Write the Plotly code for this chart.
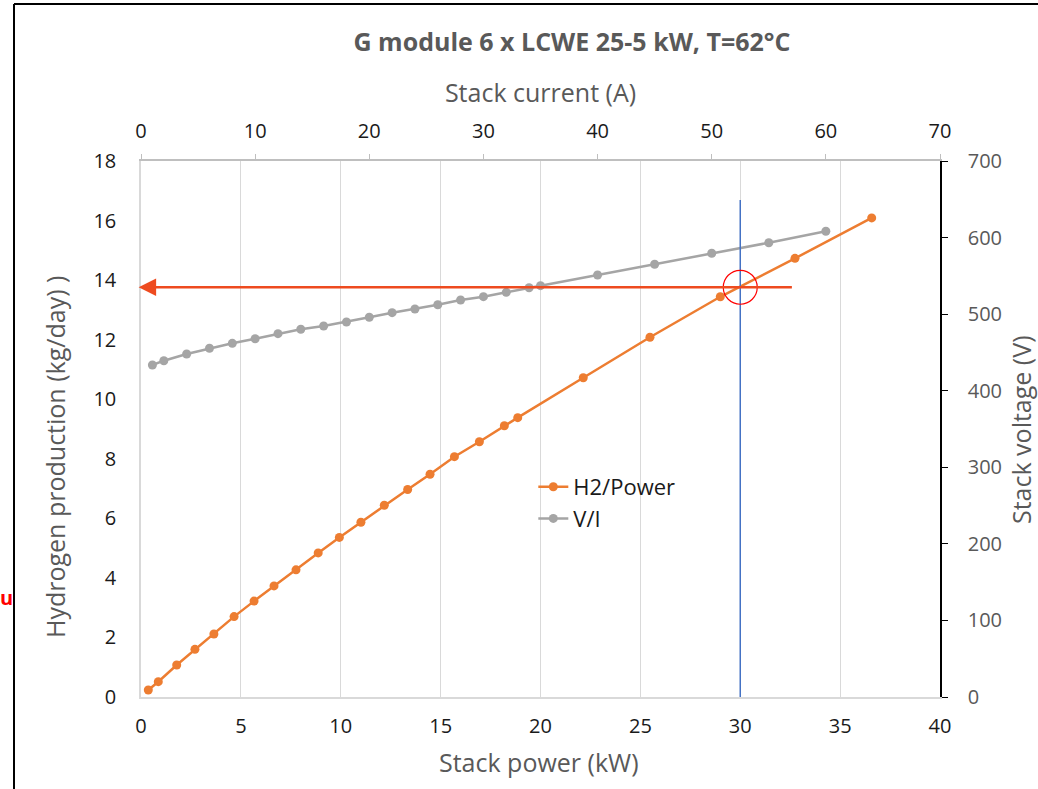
import plotly.graph_objects as go

# ---- data ----
power_kw = [0.365, 0.866, 1.787, 2.70, 3.65, 4.66, 5.66, 6.66, 7.76, 8.87, 9.93, 11.01,
            12.18, 13.35, 14.47, 15.69, 16.94, 18.19, 18.86, 22.14, 25.48, 29.0, 32.74, 36.58]
h2_kg_day = [0.235, 0.514, 1.075, 1.60, 2.115, 2.70, 3.22, 3.73, 4.27, 4.84, 5.36, 5.87,
             6.44, 6.97, 7.48, 8.07, 8.57, 9.11, 9.38, 10.72, 12.08, 13.44, 14.73, 16.09]
current_a = [1, 2, 4, 6, 8, 10, 12, 14, 16, 18, 20, 22, 24, 26, 28, 30, 32, 34, 35,
             40, 45, 50, 55, 60]
voltage_v = [433.6, 439.2, 448.0, 455.4, 461.9, 467.9, 474.5, 480.2, 484.5, 489.8, 495.9,
             501.9, 506.7, 512.3, 518.5, 522.8, 528.5, 534.5, 537.2, 551.1, 565.1, 579.5,
             593.3, 608.2]

op_power = 30.0          # operating point (kW)
op_h2 = 13.76            # operating point H2 (kg/day)
arrow_start = 32.66      # arrow tail (kW)
vline_top = 16.69        # top of blue marker line

title = "G module 6 x LCWE 25-5 kW, T=62°C"
y_left_title = "Hydrogen production (kg/day) )"
y_right_title = "Stack voltage (V)"
x_bottom_title = "Stack power (kW)"
x_top_title = "Stack current (A)"

ORANGE = "#ED7D31"
GRAY = "#A5A5A5"
TXT = "#595959"
DARK = "#1a1a1a"
FONT = "Open Sans"
TICK = 20
TITLE = 25

fig = go.Figure()
fig.add_trace(go.Scatter(x=power_kw, y=h2_kg_day, name="H2/Power", mode="lines+markers",
                         line=dict(color=ORANGE, width=2.5),
                         marker=dict(color=ORANGE, size=9), xaxis="x", yaxis="y"))
fig.add_trace(go.Scatter(x=current_a, y=voltage_v, name="V/I", mode="lines+markers",
                         line=dict(color=GRAY, width=2.5),
                         marker=dict(color=GRAY, size=9), xaxis="x2", yaxis="y2"))

fig.update_layout(
    width=1038, height=789,
    margin=dict(l=141, r=98, t=161, b=92, autoexpand=False),
    paper_bgcolor="white", plot_bgcolor="white",
    font=dict(family=FONT, size=TICK, color=TXT),
    title=dict(text="<b>" + title + "</b>", x=572 / 1038, xanchor="center",
               y=1 - 42 / 789, yanchor="middle", font=dict(size=25, color=TXT)),
    xaxis=dict(range=[0, 40], dtick=5, tick0=0, showgrid=True, gridcolor="#D9D9D9",
               gridwidth=1, showline=True, linecolor="#D9D9D9", linewidth=1.5,
               zeroline=False, ticks="", tickfont=dict(color=DARK, size=TICK),
               ticklabelstandoff=10, automargin=False),
    yaxis=dict(range=[0, 18], dtick=2, showgrid=False, showline=True, linecolor="#D9D9D9",
               linewidth=1.5, zeroline=False, ticks="", tickfont=dict(color=DARK, size=TICK),
               ticklabelstandoff=19, automargin=False),
    xaxis2=dict(range=[0, 70], dtick=10, overlaying="x", side="top", showgrid=False,
                showline=True, linecolor="#BFBFBF", linewidth=1.5, zeroline=False,
                ticks="outside", ticklen=5, tickcolor="#BFBFBF",
                tickfont=dict(color=DARK, size=TICK), ticklabelstandoff=8, automargin=False,
                title=dict(text=x_top_title, font=dict(size=TITLE, color=TXT), standoff=8)),
    yaxis2=dict(range=[0, 700], dtick=100, overlaying="y", side="right", showgrid=False,
                showline=True, linecolor="#000000", linewidth=1.5, zeroline=False,
                ticks="outside", ticklen=6, tickcolor="#000000",
                tickfont=dict(color=TXT, size=TICK), ticklabelstandoff=16, automargin=False),
    legend=dict(x=0.491, y=0.431, xanchor="left", yanchor="top", bgcolor="rgba(0,0,0,0)",
                font=dict(size=22, color=DARK)),
    showlegend=True,
)

# axis titles placed as in the reference
fig.add_annotation(x=(55 - 141) / 799, y=(697 - 457) / 536, xref="paper", yref="paper",
                   text=y_left_title, textangle=-90, showarrow=False,
                   font=dict(size=TITLE, color=TXT), xanchor="center", yanchor="middle")
fig.add_annotation(x=(1021 - 141) / 799, y=(697 - 430) / 536, xref="paper", yref="paper",
                   text=y_right_title, textangle=-90, showarrow=False,
                   font=dict(size=TITLE, color=TXT), xanchor="center", yanchor="middle")
fig.add_annotation(x=(539 - 141) / 799, y=(697 - 762) / 536, xref="paper", yref="paper",
                   text=x_bottom_title, showarrow=False,
                   font=dict(size=TITLE, color=TXT), xanchor="center", yanchor="middle")

# blue vertical marker line
fig.add_shape(type="line", xref="x", yref="y", x0=op_power, x1=op_power, y0=0, y1=vline_top,
              line=dict(color="#4472C4", width=1.5))
# red circle at operating point
fig.add_shape(type="circle", xref="x", yref="y", x0=op_power - 0.85, x1=op_power + 0.85,
              y0=op_h2 - 0.57, y1=op_h2 + 0.57, line=dict(color="#FF0000", width=1.2))
# red horizontal arrow
fig.add_annotation(x=-0.12, y=op_h2, ax=arrow_start, ay=op_h2, xref="x", yref="y",
                   axref="x", ayref="y", text="", showarrow=True, arrowhead=2,
                   arrowsize=1.4, arrowwidth=2.5, arrowcolor="#EE4B1F")

# frame lines of the surrounding page
fig.add_shape(type="line", xref="paper", yref="paper", x0=(14 - 141) / 799, x1=1.2,
              y0=(697 - 4) / 536, y1=(697 - 4) / 536, line=dict(color="black", width=2))
fig.add_shape(type="line", xref="paper", yref="paper", x0=(14 - 141) / 799, x1=(14 - 141) / 799,
              y0=(697 - 4) / 536, y1=-0.2, line=dict(color="black", width=2))
# stray red text at left edge
fig.add_annotation(x=(6 - 141) / 799, y=(697 - 597) / 536, xref="paper", yref="paper",
                   text="<b>u</b>", showarrow=False, font=dict(color="#FF0000", size=20),
                   xanchor="center", yanchor="middle")

fig.write_html("out.html")
